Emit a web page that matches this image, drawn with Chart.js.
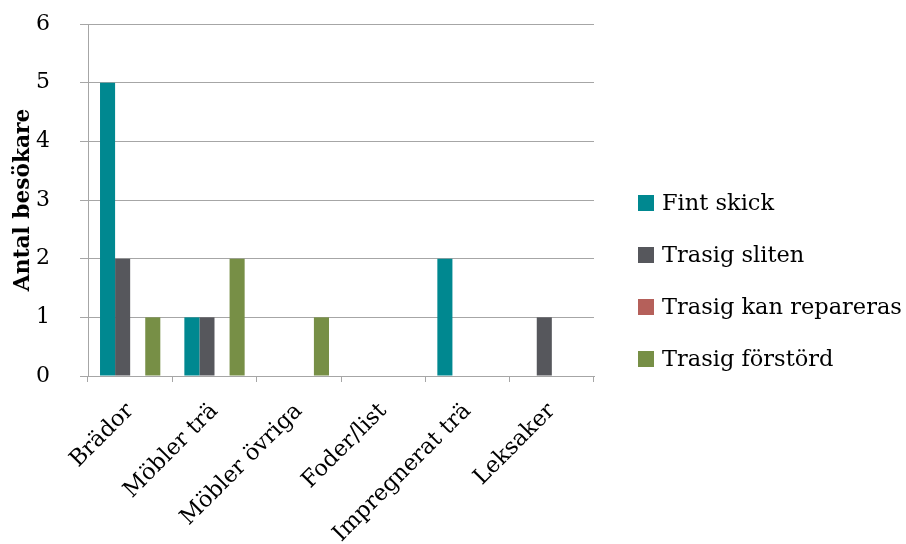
<!DOCTYPE html>
<html><head><meta charset="utf-8">
<script src="https://cdn.jsdelivr.net/npm/chart.js@4"></script>
<style>html,body{margin:0;padding:0;background:#fff}#w{width:906px;height:544px}</style>
</head><body><div id="w"><canvas id="c" width="906" height="544"></canvas></div>
<script>
const categories = ["Brädor","Möbler trä","Möbler övriga","Foder/list","Impregnerat trä","Leksaker"];
const fintSkick = [5,1,0,0,2,0];
const trasigSliten = [2,1,0,0,0,1];
const trasigKanRepareras = [0,0,0,0,0,0];
const trasigForstord = [1,2,1,0,0,0];
const yTicks = [0,1,2,3,4,5,6];
const seriesNames = ["Fint skick","Trasig sliten","Trasig kan repareras","Trasig förstörd"];
const colors = ["#008890","#56575c","#b5605a","#778f46"];

const FONT = "'DejaVu Serif', serif";
const gridColor = "#a6a6a6";

const sideLegend = {
  id: 'sideLegend',
  afterDraw(chart) {
    const ctx = chart.ctx;
    ctx.save();
    ctx.font = "22.5px " + FONT;
    ctx.textBaseline = 'middle';
    ctx.textAlign = 'left';
    const x0 = 638, startY = 203, step = 52, box = 16;
    chart.data.datasets.forEach((ds, i) => {
      const cy = startY + i * step;
      ctx.fillStyle = ds.backgroundColor;
      ctx.fillRect(x0, cy - box/2, box, box);
      ctx.fillStyle = '#000';
      ctx.fillText(ds.label, x0 + box + 8, cy + 1);
    });
    ctx.restore();
  }
};

new Chart(document.getElementById('c'), {
  type: 'bar',
  data: {
    labels: categories,
    datasets: [fintSkick, trasigSliten, trasigKanRepareras, trasigForstord].map((d,i)=>({
      label: seriesNames[i], data: d, backgroundColor: colors[i], borderWidth: 0,
      categoryPercentage: 0.715, barPercentage: 1
    }))
  },
  plugins: [sideLegend],
  options: {
    responsive: false, animation: false,
    layout: {padding: {left: 0, right: 312, top: 24, bottom: 0}},
    plugins: {
      legend: {display: false},
      tooltip: {enabled: false}
    },
    scales: {
      x: {
        grid: {display: true, drawOnChartArea: false, offset: true, color: gridColor, tickLength: 6},
        border: {color: gridColor},
        ticks: {font: {family: FONT, size: 22.5}, color: '#000', maxRotation: 45, minRotation: 45, padding: 16},
        afterFit: s => { s.height = 168; s.paddingLeft = 0; s.paddingRight = 0; }
      },
      y: {
        min: 0, max: 6,
        afterBuildTicks: s => { s.ticks = yTicks.map(v=>({value:v})); },
        grid: {color: gridColor, tickLength: 8},
        border: {color: gridColor},
        ticks: {font: {family: FONT, size: 22}, color: '#000', padding: 30},
        title: {display: true, text: 'Antal besökare', font: {family: FONT, size: 21.7, weight: 'bold'}, color: '#000', padding: {top: 10, bottom: 0}},
        afterFit: s => { s.width = 88; s.paddingTop = 0; s.paddingBottom = 0; }
      }
    }
  }
});
</script></body></html>
